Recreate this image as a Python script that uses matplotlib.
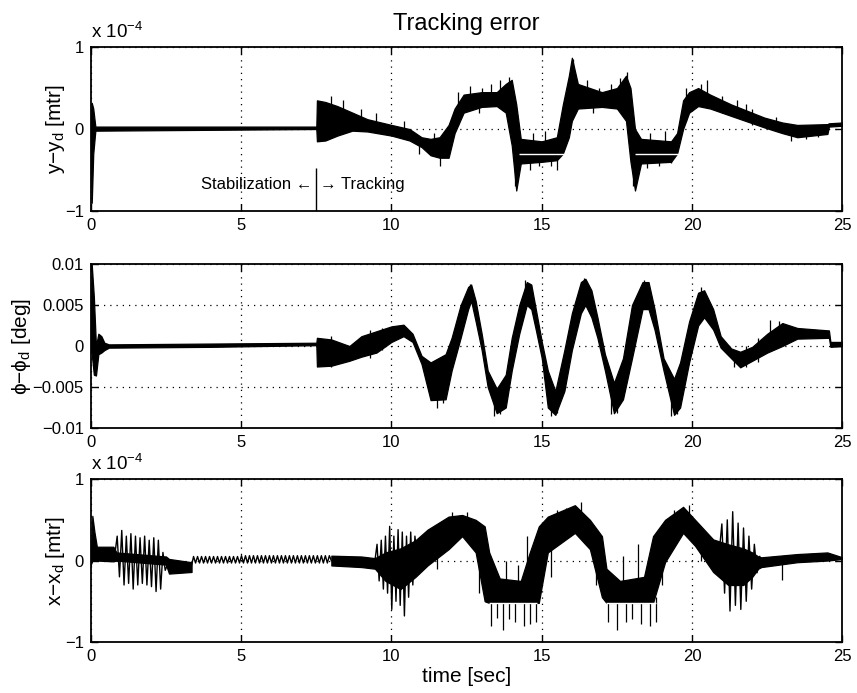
import numpy as np
import matplotlib
matplotlib.use("Agg")
import matplotlib.pyplot as plt

plt.rcParams['font.family'] = ['Liberation Sans', 'DejaVu Sans']
plt.rcParams['mathtext.fontset'] = 'custom'
plt.rcParams['mathtext.rm'] = 'Liberation Sans'
plt.rcParams['mathtext.it'] = 'Liberation Sans:italic'
plt.rcParams['mathtext.sf'] = 'Liberation Sans'

# ---- y - y_d (units of 1e-4 m): envelope of the dense trace ----
y_t = [0.0, 0.03, 0.08, 0.15, 7.5, 7.52, 7.8, 8.2, 8.7, 9.2, 10.0, 10.6, 11.0,
       11.3, 11.6, 11.9, 12.1, 12.4, 13.0, 13.5, 13.8, 14.0, 14.15, 14.3, 15.0,
       15.5, 15.7, 15.9, 16.0, 16.2, 17.0, 17.5, 17.8, 17.95, 18.1, 18.3, 19.3,
       19.5, 19.7, 19.9, 20.2, 20.6, 21.3, 22.4, 23.0, 23.5, 24.5, 24.55, 25.0]
y_lo = [-0.05, -0.9, -0.3, -0.02, 0.0, -0.15, -0.14, -0.08, -0.02, -0.03, -0.08,
        -0.14, -0.22, -0.32, -0.35, -0.35, -0.05, 0.2, 0.27, 0.28, 0.2, -0.2,
        -0.75, -0.42, -0.4, -0.38, -0.3, -0.1, 0.1, 0.25, 0.27, 0.25, 0.1, -0.4,
        -0.75, -0.42, -0.4, -0.3, 0.0, 0.2, 0.28, 0.25, 0.16, 0.02, -0.05, -0.1,
        -0.06, 0.03, 0.04]
y_hi = [0.05, 0.32, 0.25, 0.03, 0.03, 0.35, 0.33, 0.28, 0.2, 0.12, 0.05, 0.0,
        -0.1, -0.12, -0.1, 0.05, 0.25, 0.42, 0.45, 0.45, 0.55, 0.6, 0.3, -0.12,
        -0.15, -0.1, 0.3, 0.65, 0.87, 0.55, 0.45, 0.5, 0.65, 0.5, 0.0, -0.12,
        -0.15, -0.05, 0.35, 0.45, 0.5, 0.42, 0.3, 0.14, 0.08, 0.05, 0.06, 0.07,
        0.08]
y_spk_t = [8.0, 8.4, 9.0, 9.5, 10.4, 10.9, 11.4, 11.6, 12.2, 12.6, 12.9, 13.0,
           13.3, 13.6, 13.9, 14.1, 14.6, 14.7, 14.9, 15.1, 15.3, 15.5, 16.05,
           16.5, 16.7, 16.9, 17.3, 17.6, 17.85, 18.05, 18.5, 18.6, 18.9, 19.1,
           19.3, 19.8, 20.3, 20.5, 21.0, 21.5, 21.8, 22.0, 22.8, 23.3, 23.8,
           24.2]
y_spk_lo = [0.1, 0.1, 0.05, 0.0, -0.05, -0.3, -0.2, -0.45, 0.05, 0.35, 0.2,
            0.35, 0.35, 0.3, 0.25, -0.7, -0.5, -0.3, -0.45, -0.3, -0.45, -0.5,
            0.3, 0.35, 0.2, 0.35, 0.35, 0.3, 0.3, -0.7, -0.48, -0.3, -0.45, -0.3,
            -0.42, 0.1, 0.3, 0.3, 0.2, 0.15, 0.15, 0.05, 0.05, -0.15, -0.12, -0.1]
y_spk_hi = [0.4, 0.35, 0.25, 0.2, 0.1, -0.1, -0.05, -0.2, 0.45, 0.52, 0.4, 0.5,
            0.55, 0.6, 0.63, -0.2, -0.3, -0.05, -0.3, -0.02, -0.3, -0.3, 0.85,
            0.6, 0.4, 0.5, 0.55, 0.62, 0.7, -0.2, -0.3, -0.05, -0.3, -0.03, -0.3,
            0.5, 0.55, 0.6, 0.4, 0.35, 0.3, 0.25, 0.15, 0.05, 0.05, 0.05]
y_white = [(14.25, 15.95), (18.1, 19.55)]
y_white_level = -0.3

# ---- phi - phi_d (deg) ----
p_t = [0.0, 0.03, 0.1, 0.17, 0.25, 0.35, 0.45, 0.6, 4.0, 7.5, 7.52, 8.0, 8.6,
       9.0, 9.5, 10.0, 10.4, 10.7, 11.0, 11.3, 11.8, 12.0, 12.3, 12.55, 12.65,
       12.8, 13.0, 13.2, 13.5, 13.8, 14.0, 14.25, 14.5, 14.65, 14.8, 15.0, 15.2,
       15.45, 15.75, 16.0, 16.3, 16.45, 16.65, 16.85, 17.1, 17.4, 17.7, 18.0,
       18.35, 18.55, 18.75, 19.05, 19.4, 19.6, 19.9, 20.2, 20.4, 20.7, 20.95,
       21.3, 21.6, 22.0, 22.5, 23.0, 23.5, 24.55, 24.6, 25.0]
p_lo = [-0.0005, -0.001, -0.0035, -0.0036, -0.001, -0.0008, -0.0005, -0.0002,
        -0.0001, 0.0001, -0.0025, -0.0024, -0.0018, -0.0013, -0.0008, 0.0005,
        0.0012, 0.0005, -0.0022, -0.0066, -0.0065, -0.003, 0.001, 0.0045, 0.0055,
        0.003, -0.0005, -0.005, -0.0082, -0.0075, -0.003, 0.0015, 0.005, 0.0045,
        0.002, -0.0015, -0.0075, -0.0084, -0.0055, -0.0005, 0.004, 0.005, 0.0035,
        0.001, -0.003, -0.0082, -0.0065, -0.0015, 0.0045, 0.0045, 0.002, -0.003,
        -0.0084, -0.0075, -0.002, 0.0025, 0.0035, 0.002, -0.0002, -0.0015,
        -0.0026, -0.0018, -0.0008, 0.0, 0.0009, 0.001, -0.0001, 0.0]
p_hi = [0.0005, 0.0099, 0.006, 0.0, 0.0015, 0.0012, 0.0004, 0.0002, 0.0003,
        0.0004, 0.001, 0.0008, 0.0, 0.0012, 0.0018, 0.0024, 0.0026, 0.0015,
        -0.0012, -0.002, -0.001, 0.001, 0.005, 0.0072, 0.0075, 0.0055, 0.0015,
        -0.003, -0.0052, -0.0035, 0.001, 0.005, 0.0078, 0.0075, 0.0045, 0.0005,
        -0.003, -0.0055, -0.0005, 0.004, 0.0078, 0.0082, 0.0068, 0.0035, -0.001,
        -0.0045, -0.0015, 0.005, 0.0078, 0.0078, 0.0045, -0.0015, -0.004, -0.002,
        0.003, 0.0065, 0.0068, 0.0045, 0.0012, -0.0003, -0.0007, -0.0001, 0.0015,
        0.0028, 0.0022, 0.0019, 0.0005, 0.0005]
p_spk_t = [8.0, 9.3, 9.7, 11.5, 11.7, 12.2, 12.6, 13.4, 13.6, 14.45, 15.3, 15.5,
           16.4, 17.3, 17.5, 18.4, 19.3, 19.5, 20.3, 21.4, 21.8, 22.2, 22.6,
           22.9]
p_spk_lo = [-0.0026, -0.0015, -0.0005, -0.0075, -0.007, 0.0, 0.006, -0.0085,
            -0.0083, 0.0065, -0.0085, -0.0082, 0.0065, -0.0083, -0.0082, 0.0065,
            -0.0085, -0.0083, 0.005, -0.0025, -0.0025, -0.002, 0.0, 0.0]
p_spk_hi = [0.0012, 0.002, 0.0022, -0.004, -0.003, 0.003, 0.0076, -0.006,
            -0.006, 0.008, -0.006, -0.006, 0.0083, -0.006, -0.006, 0.008,
            -0.006, -0.006, 0.0072, -0.001, 0.0, 0.001, 0.0032, 0.003]

# ---- x - x_d (units of 1e-4 m) ----
xa_t = [0.0, 0.05, 0.12, 0.2, 0.75, 0.85, 2.5, 2.6, 3.35]
xa_lo = [-0.05, 0.0, 0.0, 0.0, -0.01, 0.0, -0.05, -0.16, -0.14]
xa_hi = [0.05, 0.55, 0.35, 0.17, 0.17, 0.1, 0.05, 0.02, -0.02]
x_osc1_span = (0.8, 2.55)
x_osc1 = [0.08, 0.3, -0.2, 0.37, -0.3, 0.3, -0.28, 0.33, -0.35, 0.3, -0.3,
          0.28, -0.28, 0.3, -0.3, 0.25, -0.32, 0.28, -0.38, 0.25, -0.35, 0.1,
          -0.12, -0.05]
x_ripple_span = (3.35, 8.0)
x_ripple = [-0.06, 0.05, -0.03, 0.05, -0.03, 0.05, -0.03, 0.05, -0.03, 0.05,
            -0.03, 0.05, -0.03, 0.05, -0.03, 0.05, -0.03, 0.05, -0.03, 0.05,
            -0.03, 0.05, -0.03, 0.05, -0.03, 0.06, -0.03, 0.06, -0.03, 0.06,
            -0.03, 0.06, -0.03, 0.06, -0.03, 0.06, -0.03, 0.06, -0.03, 0.06,
            -0.03, 0.06, -0.03, 0.06, -0.03, 0.06, -0.03, 0.06, -0.03, 0.06,
            -0.03, 0.06, -0.03, 0.06, -0.03, 0.06, -0.03, 0.06, -0.03, 0.06,
            -0.03, 0.06, -0.03, 0.06, -0.03, 0.06, -0.03, 0.06, -0.03, 0.06,
            0.0]
x_osc2_span = (9.45, 10.85)
x_osc2 = [0.0, 0.2, -0.25, 0.25, -0.35, 0.3, -0.4, 0.42, -0.6, 0.3, -0.5, 0.38,
          -0.55, 0.35, -0.68, 0.3, -0.45, 0.35, -0.3, 0.3, 0.05]
x_osc3_span = (20.9, 22.25)
x_osc3 = [0.1, 0.45, -0.4, 0.5, -0.62, 0.6, -0.55, 0.46, -0.6, 0.4, -0.5, 0.3,
          -0.35, 0.2, -0.15, 0.05]
xb_t = [8.0, 9.0, 9.45, 9.8, 10.3, 10.8, 11.2, 11.9, 12.35, 12.8, 13.1, 13.25,
        13.6, 14.3, 14.6, 14.9, 15.2, 16.1, 16.6, 17.0, 17.15, 17.6, 18.4, 18.7,
        19.1, 19.7, 20.1, 20.7, 21.2, 21.7, 22.0, 22.2, 22.3, 23.5, 24.5, 25.0]
xb_lo = [-0.06, -0.08, -0.1, -0.25, -0.35, -0.2, -0.06, 0.14, 0.3, 0.1, -0.5,
         -0.52, -0.52, -0.52, -0.52, -0.52, 0.1, 0.34, 0.14, -0.45, -0.52,
         -0.52, -0.52, -0.52, -0.02, 0.34, 0.18, -0.14, -0.3, -0.3, -0.2, -0.1,
         -0.08, -0.02, 0.0, 0.02]
xb_hi = [0.06, 0.05, 0.03, 0.1, 0.15, 0.25, 0.38, 0.54, 0.56, 0.5, 0.42, 0.1,
         -0.22, -0.25, 0.1, 0.42, 0.54, 0.68, 0.5, 0.3, -0.1, -0.25, -0.2, 0.3,
         0.5, 0.66, 0.5, 0.26, 0.2, 0.15, 0.1, 0.05, 0.04, 0.08, 0.1, 0.04]
x_spk_t = [11.5, 12.0, 12.5, 12.9, 13.3, 13.5, 13.7, 13.8, 13.9, 14.1, 14.2,
           14.4, 14.5, 14.6, 14.8, 15.3, 15.5, 15.8, 16.3, 16.8, 17.2, 17.5,
           17.7, 17.8, 18.0, 18.2, 18.3, 18.6, 18.8, 19.0, 19.4, 19.9, 20.3,
           23.0]
x_spk_lo = [-0.1, 0.3, 0.3, -0.4, -0.8, -0.7, -0.85, -0.4, -0.72, -0.75, -0.4,
            -0.8, -0.4, -0.78, -0.75, -0.2, 0.3, 0.3, 0.4, -0.3, -0.75, -0.85,
            -0.4, -0.75, -0.72, -0.4, -0.78, -0.8, -0.75, -0.3, 0.3, 0.3, 0.0,
            -0.24]
x_spk_hi = [0.2, 0.6, 0.6, 0.2, -0.45, -0.45, -0.45, 0.0, -0.45, -0.45, -0.05,
            -0.45, 0.3, -0.45, -0.45, 0.3, 0.62, 0.65, 0.72, 0.2, -0.45, -0.45,
            0.05, -0.45, -0.45, 0.2, -0.45, -0.45, -0.45, 0.2, 0.62, 0.68, 0.3,
            0.04]
x_white = [(13.25, 14.85), (17.15, 18.8)]
x_white_level = -0.52

x_ticks = [0, 5, 10, 15, 20, 25]


def style_axis(ax, yticks, ylabels, ylabel, label_x):
    ax.set_xlim(0, 25)
    ax.set_ylim(yticks[0], yticks[-1])
    ax.set_xticks(x_ticks)
    ax.set_xticklabels([str(v) for v in x_ticks])
    ax.set_yticks(yticks)
    ax.set_yticklabels(ylabels)
    ax.tick_params(direction='in', top=True, right=True, length=5,
                   width=1.0, labelsize=12, pad=5)
    ax.grid(True, linestyle=(0, (1, 4)), color='k', linewidth=0.9)
    for s in ax.spines.values():
        s.set_linewidth(1.3)
    ax.set_ylabel(ylabel, fontsize=15)
    ax.yaxis.set_label_coords(label_x, 0.5)


def draw_band(ax, t, lo, hi):
    ax.fill_between(t, lo, hi, facecolor='k', edgecolor='k', linewidth=0.9)


def draw_osc(ax, span, vals):
    tt = np.linspace(span[0], span[1], len(vals))
    ax.plot(tt, vals, color='k', linewidth=1.0)


fig = plt.figure(figsize=(8.57, 6.93), dpi=100)
ax1 = fig.add_axes([0.106, 0.6955, 0.877, 0.2366])
ax2 = fig.add_axes([0.106, 0.3824, 0.877, 0.2366])
ax3 = fig.add_axes([0.106, 0.0736, 0.877, 0.235])

# panel 1
draw_band(ax1, y_t, y_lo, y_hi)
ax1.vlines(y_spk_t, y_spk_lo, y_spk_hi, color='k', linewidth=0.9)
for a, b in y_white:
    ax1.hlines(y_white_level, a, b, color='white', linewidth=1.0)
ax1.vlines(7.5, -1, -0.47, color='k', linewidth=1.0)
ax1.text(7.38, -0.68, 'Stabilization \u2190', ha='right', va='center', fontsize=12)
ax1.text(7.62, -0.68, '\u2192 Tracking', ha='left', va='center', fontsize=12)
style_axis(ax1, [-1, 0, 1], ['\u22121', '0', '1'],
           'y\u2212y$_\\mathrm{d}$ [mtr]', -0.032)
ax1.text(0.0, 1.03, 'x 10$^{-4}$', transform=ax1.transAxes, ha='left',
         va='bottom', fontsize=13.5)
ax1.set_title('Tracking error', fontsize=17, pad=12)

# panel 2
draw_band(ax2, p_t, p_lo, p_hi)
ax2.vlines(p_spk_t, p_spk_lo, p_spk_hi, color='k', linewidth=0.9)
style_axis(ax2, [-0.01, -0.005, 0, 0.005, 0.01],
           ['\u22120.01', '\u22120.005', '0', '0.005', '0.01'],
           '\u03d5\u2212\u03d5$_\\mathrm{d}$ [deg]', -0.077)

# panel 3
draw_band(ax3, xa_t, xa_lo, xa_hi)
draw_osc(ax3, x_osc1_span, x_osc1)
draw_osc(ax3, x_ripple_span, x_ripple)
draw_band(ax3, xb_t, xb_lo, xb_hi)
draw_osc(ax3, x_osc2_span, x_osc2)
draw_osc(ax3, x_osc3_span, x_osc3)
ax3.vlines(x_spk_t, x_spk_lo, x_spk_hi, color='k', linewidth=0.9)
for a, b in x_white:
    ax3.hlines(x_white_level, a, b, color='white', linewidth=1.0)
style_axis(ax3, [-1, 0, 1], ['\u22121', '0', '1'],
           'x\u2212x$_\\mathrm{d}$ [mtr]', -0.032)
ax3.text(0.0, 1.03, 'x 10$^{-4}$', transform=ax3.transAxes, ha='left',
         va='bottom', fontsize=13.5)
ax3.set_xlabel('time [sec]', fontsize=15, labelpad=2)

fig.savefig('out.png', dpi=100)
